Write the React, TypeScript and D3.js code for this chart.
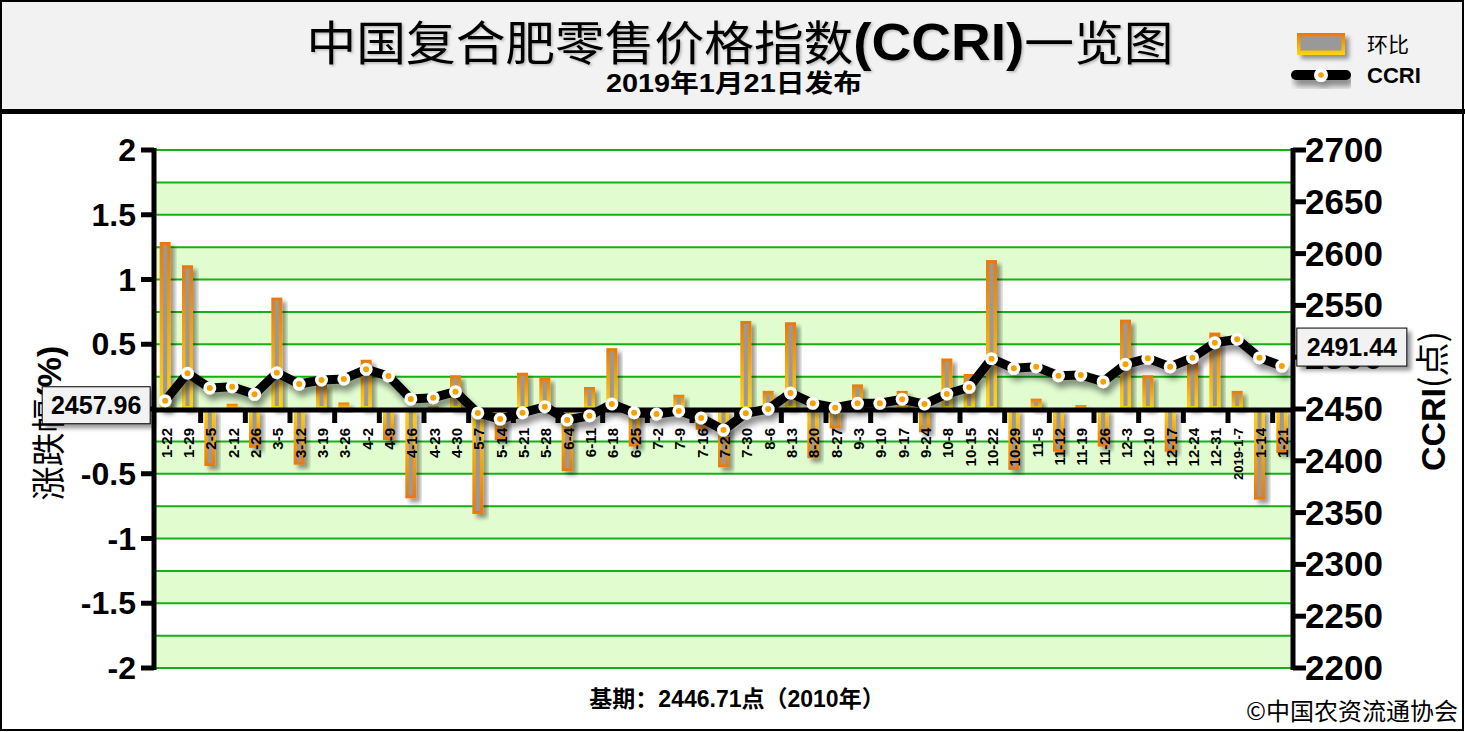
import * as d3 from "d3";

const categories = ["1-22", "1-29", "2-5", "2-12", "2-26", "3-5", "3-12", "3-19", "3-26", "4-2", "4-9", "4-16", "4-23", "4-30", "5-7", "5-14", "5-21", "5-28", "6-4", "6-11", "6-18", "6-25", "7-2", "7-9", "7-16", "7-23", "7-30", "8-6", "8-13", "8-20", "8-27", "9-3", "9-10", "9-17", "9-24", "10-8", "10-15", "10-22", "10-29", "11-5", "11-12", "11-19", "11-26", "12-3", "12-10", "12-17", "12-24", "12-31", "2019-1-7", "1-14", "1-21"];

// 环比 (%)
const changes = [1.29, 1.11, -0.44, 0.04, -0.3, 0.86, -0.43, 0.19, 0.05, 0.38, -0.24, -0.69, 0.02, 0.26, -0.81, -0.24, 0.28, 0.24, -0.48, 0.17, 0.47, -0.29, 0, 0.11, -0.16, -0.45, 0.68, 0.14, 0.67, -0.38, -0.15, 0.19, 0, 0.14, -0.18, 0.39, 0.27, 1.15, -0.47, 0.08, -0.33, 0.03, -0.29, 0.69, 0.26, -0.33, 0.37, 0.59, 0.14, -0.7, -0.34];

// CCRI 指数
const ccri = [2457.96, 2484.5, 2470.3, 2471.5, 2464.2, 2485.0, 2474.1, 2478.0, 2479.0, 2488.3, 2481.9, 2459.7, 2460.9, 2466.7, 2446.2, 2440.3, 2446.4, 2452.2, 2439.4, 2443.5, 2454.8, 2446.4, 2445.2, 2448.1, 2441.3, 2429.7, 2445.8, 2450.0, 2465.4, 2455.5, 2451.3, 2455.5, 2455.5, 2459.4, 2454.8, 2464.5, 2470.9, 2498.6, 2489.3, 2490.8, 2482.2, 2482.8, 2476.4, 2493.1, 2498.9, 2490.8, 2499.5, 2514.0, 2517.3, 2499.5, 2491.44];

const leftTicks = [2, 1.5, 1, 0.5, 0, -0.5, -1, -1.5, -2];
const rightTicks = [2700, 2650, 2600, 2550, 2500, 2450, 2400, 2350, 2300, 2250, 2200];

const W = 1465;
const H = 732;
const plot = { l: 154, r: 1293, t: 150, b: 668 };
const FONT = "'Liberation Sans', Arial, 'Noto Sans CJK SC', sans-serif";
const CJK = "'Noto Sans CJK SC', 'Liberation Sans', sans-serif";

export default function App() {
  const x = d3.scaleBand<string>().domain(categories).range([plot.l, plot.r]);
  const yL = d3.scaleLinear().domain([-2, 2]).range([plot.b, plot.t]);
  const yR = d3.scaleLinear().domain([2200, 2700]).range([plot.b, plot.t]);
  const cx = (c: string) => (x(c) ?? 0) + x.bandwidth() / 2;
  const bw = 11;

  const gridVals = d3.range(0, 17).map((i) => 2 - i * 0.25);
  const bands = gridVals.slice(0, -1).map((v, i) => ({ top: v, bot: v - 0.25, green: i % 2 === 1 }));

  const line = d3
    .line<number>()
    .x((_, i) => cx(categories[i]))
    .y((d) => yR(d));

  const first = { x: cx(categories[0]), y: yR(ccri[0]) };
  const last = { x: cx(categories[categories.length - 1]), y: yR(ccri[ccri.length - 1]) };

  return (
    <svg width={W} height={H} style={{ display: "block", fontFamily: FONT }}>
      <style>{`body{margin:0}`}</style>
      <defs>
        <filter id="sh" x="-50%" y="-50%" width="200%" height="200%">
          <feDropShadow dx="4" dy="4" stdDeviation="2" floodColor="#000" floodOpacity="0.4" />
        </filter>
        <filter id="lsh" x="-10%" y="-50%" width="120%" height="200%">
          <feDropShadow dx="3" dy="6" stdDeviation="3" floodColor="#000" floodOpacity="0.45" />
        </filter>
        <filter id="tsh" x="-5%" y="-20%" width="110%" height="140%">
          <feDropShadow dx="1.5" dy="1.5" stdDeviation="0.8" floodColor="#000" floodOpacity="0.25" />
        </filter>
        <linearGradient id="gPos" x1="0" y1="0" x2="0" y2="1">
          <stop offset="0" stopColor="#e8780a" />
          <stop offset="1" stopColor="#ffd417" />
        </linearGradient>
        <linearGradient id="gNeg" x1="0" y1="0" x2="0" y2="1">
          <stop offset="0" stopColor="#ffd417" />
          <stop offset="1" stopColor="#e8780a" />
        </linearGradient>
      </defs>

      <rect x={0} y={0} width={W} height={H} fill="#fff" />
      {/* header */}
      <rect x={1} y={1} width={W - 3} height={110} fill="#f2f2f2" stroke="#000" strokeWidth={1.5} />
      <rect x={0} y={109} width={W} height={5} fill="#000" />
      <rect x={1} y={1} width={W - 3} height={H - 3} fill="none" stroke="#000" strokeWidth={2} />

      <text x={740} y={60} textAnchor="middle" fontFamily={CJK} fontSize={47} fontWeight={400} textLength={867} lengthAdjust="spacingAndGlyphs" filter="url(#tsh)">
        中国复合肥零售价格指数<tspan fontFamily={FONT} fontWeight="bold" fontSize={52}>(CCRI)</tspan>一览图
      </text>
      <text x={734} y={92} textAnchor="middle" fontSize={25} fontWeight="bold" textLength={256} lengthAdjust="spacingAndGlyphs">
        2019年1月21日发布
      </text>

      {/* legend */}
      <g filter="url(#sh)">
        <rect x={1297} y={33} width={48} height={22} fill="url(#gPos)" />
        <rect x={1300.5} y={36.5} width={41} height={14} fill="#999" />
      </g>
      <text x={1367} y={52} fontFamily={CJK} fontSize={21}>环比</text>
      <g filter="url(#lsh)">
        <line x1={1296} x2={1346} y1={75} y2={75} stroke="#000" strokeWidth={10} strokeLinecap="round" />
        <circle cx={1321} cy={75} r={7} fill="#fff" />
        <circle cx={1321} cy={75} r={2.8} fill="#f5a200" />
      </g>
      <text x={1367} y={83} fontSize={22} fontWeight="bold">CCRI</text>

      {/* bands and grid */}
      {bands.map((b, i) => (
        <rect key={"b" + i} x={plot.l} width={plot.r - plot.l} y={yL(b.top)} height={yL(b.bot) - yL(b.top)} fill={b.green ? "#e1fdcf" : "#fff"} />
      ))}
      {gridVals.map((v, i) => (
        <line key={"g" + i} x1={plot.l} x2={plot.r} y1={yL(v)} y2={yL(v)} stroke="#14b014" strokeWidth={2} />
      ))}

      {/* bars */}
      {changes.map((v, i) => {
        if (v === 0) return null;
        const c = categories[i];
        const y0 = yL(0);
        const y1 = yL(v);
        const top = Math.min(y0, y1);
        const h = Math.abs(y1 - y0);
        return (
          <g key={"bar" + i} filter="url(#sh)">
            <rect x={cx(c) - bw / 2} y={top} width={bw} height={h} fill={v > 0 ? "url(#gPos)" : "url(#gNeg)"} />
            {h > 7 && <rect x={cx(c) - 2} y={top + 3} width={4} height={h - 6} fill="#999" />}
          </g>
        );
      })}

      {/* x axis */}
      <line x1={plot.l} x2={plot.r} y1={yL(0) + 1} y2={yL(0) + 1} stroke="#000" strokeWidth={5} />
      {categories.map((c, i) =>
        i > 0 && i % 2 === 0 ? <rect key={"t" + i} x={(x(c) ?? 0) - 0.5} y={yL(0)} width={5} height={14} fill="#000" /> : null
      )}
      {categories.map((c, i) => {
        const fs = c.length > 5 ? 13 : 15;
        return (
          <text
            key={"xl" + i}
            transform={`translate(${cx(c) + 0.36 * fs + 1},${yL(0) + 19}) rotate(-90)`}
            textAnchor="end"
            fontSize={fs}
            fontWeight="bold"
          >
            {c}
          </text>
        );
      })}

      {/* left axis */}
      <line x1={plot.l} x2={plot.l} y1={plot.t - 2} y2={plot.b + 2} stroke="#000" strokeWidth={5} />
      {leftTicks.map((v) => (
        <g key={"lt" + v}>
          <line x1={plot.l - 13} x2={plot.l} y1={yL(v)} y2={yL(v)} stroke="#000" strokeWidth={5} />
          <text x={136} y={yL(v) + 11} textAnchor="end" fontSize={32} fontWeight="bold">
            {v}
          </text>
        </g>
      ))}
      <text transform={`translate(61,${yL(0) + 14}) rotate(-90)`} textAnchor="middle" fontFamily={CJK} fontSize={34}>
        涨跌幅<tspan fontFamily={FONT} fontWeight="bold">(%)</tspan>
      </text>

      {/* right axis */}
      <line x1={plot.r} x2={plot.r} y1={plot.t - 2} y2={plot.b + 2} stroke="#000" strokeWidth={5} />
      {rightTicks.map((v) => (
        <g key={"rt" + v}>
          <line x1={plot.r} x2={plot.r + 13} y1={yR(v)} y2={yR(v)} stroke="#000" strokeWidth={5} />
          <text x={1305} y={yR(v) + 12} fontSize={35} fontWeight="bold">
            {v}
          </text>
        </g>
      ))}
      <text transform={`translate(1445,${yL(0) - 8}) rotate(-90)`} textAnchor="middle" fontSize={34} fontWeight="bold">
        CCRI<tspan fontFamily={CJK} fontWeight={400}>(点)</tspan>
      </text>

      {/* CCRI line */}
      <g filter="url(#lsh)">
        <path d={line(ccri) ?? ""} fill="none" stroke="#000" strokeWidth={9} strokeLinejoin="round" strokeLinecap="round" />
        {ccri.map((v, i) => (
          <g key={"p" + i}>
            <circle cx={cx(categories[i])} cy={yR(v)} r={6.5} fill="#fff" />
            <circle cx={cx(categories[i])} cy={yR(v)} r={3} fill="#f5a200" />
          </g>
        ))}
      </g>

      {/* value labels */}
      <g filter="url(#sh)">
        <rect x={first.x - 123} y={first.y - 14} width={108} height={37} fill="#f2f2f2" stroke="#000" strokeWidth={1} />
      </g>
      <text x={first.x - 69} y={first.y + 13} textAnchor="middle" fontSize={25} fontWeight="bold">
        {ccri[0].toFixed(2)}
      </text>
      <g filter="url(#sh)">
        <rect x={last.x + 15} y={last.y - 38} width={110} height={38} fill="#f2f2f2" stroke="#000" strokeWidth={1} />
      </g>
      <text x={last.x + 70} y={last.y - 10} textAnchor="middle" fontSize={25} fontWeight="bold">
        {ccri[ccri.length - 1].toFixed(2)}
      </text>

      {/* footer */}
      <text x={737} y={707} textAnchor="middle" fontSize={23} fontWeight="bold">
        基期：2446.71点（2010年）
      </text>
      <text x={1458} y={720} textAnchor="end" fontFamily={CJK} fontSize={24}>
        ©中国农资流通协会
      </text>
    </svg>
  );
}
